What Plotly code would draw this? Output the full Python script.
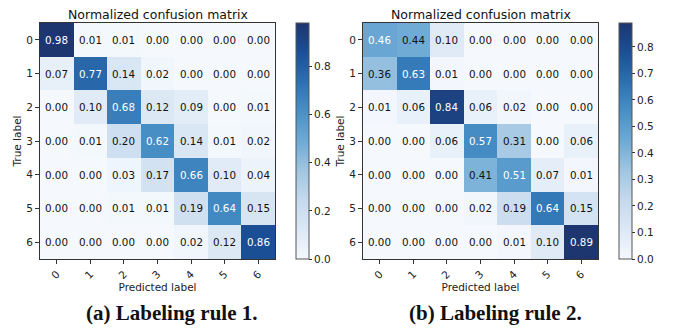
import plotly.graph_objects as go

labels = ["0", "1", "2", "3", "4", "5", "6"]

cm_rule1 = [
    [0.98, 0.01, 0.01, 0.00, 0.00, 0.00, 0.00],
    [0.07, 0.77, 0.14, 0.02, 0.00, 0.00, 0.00],
    [0.00, 0.10, 0.68, 0.12, 0.09, 0.00, 0.01],
    [0.00, 0.01, 0.20, 0.62, 0.14, 0.01, 0.02],
    [0.00, 0.00, 0.03, 0.17, 0.66, 0.10, 0.04],
    [0.00, 0.00, 0.01, 0.01, 0.19, 0.64, 0.15],
    [0.00, 0.00, 0.00, 0.00, 0.02, 0.12, 0.86],
]

cm_rule2 = [
    [0.46, 0.44, 0.10, 0.00, 0.00, 0.00, 0.00],
    [0.36, 0.63, 0.01, 0.00, 0.00, 0.00, 0.00],
    [0.01, 0.06, 0.84, 0.06, 0.02, 0.00, 0.00],
    [0.00, 0.00, 0.06, 0.57, 0.31, 0.00, 0.06],
    [0.00, 0.00, 0.00, 0.41, 0.51, 0.07, 0.01],
    [0.00, 0.00, 0.00, 0.02, 0.19, 0.64, 0.15],
    [0.00, 0.00, 0.00, 0.00, 0.01, 0.10, 0.89],
]

titles = ["Normalized confusion matrix", "Normalized confusion matrix"]
captions = ["(a) Labeling rule 1.", "(b) Labeling rule 2."]
cbar_ticks1 = [0.0, 0.2, 0.4, 0.6, 0.8]
cbar_ticks2 = [0.0, 0.1, 0.2, 0.3, 0.4, 0.5, 0.6, 0.7, 0.8]

blues = [
    [0.0, "#f5f9fe"], [0.125, "#dce8f5"], [0.25, "#c5d9ee"], [0.375, "#a0c6e1"],
    [0.5, "#6eaad5"], [0.625, "#4990c6"], [0.75, "#2c70b2"], [0.875, "#1b5096"],
    [1.0, "#1d3670"],
]

W, H = 674, 328
FONT = "DejaVu Sans"

panels = [
    dict(cm=cm_rule1, ticks=cbar_ticks1, x0=40, x1=275, cb=296),
    dict(cm=cm_rule2, ticks=cbar_ticks2, x0=363, x1=598, cb=619),
]
y_top, y_bot = 23, 259

fig = go.Figure()
annotations = []
for i, p in enumerate(panels):
    sfx = "" if i == 0 else str(i + 1)
    cm = p["cm"]
    zmax = max(max(r) for r in cm)
    idx = list(range(len(labels)))
    fig.add_trace(go.Heatmap(
        z=cm, x=idx, y=idx, zmin=0, zmax=zmax, colorscale=blues,
        xaxis="x" + sfx, yaxis="y" + sfx, hoverinfo="skip",
        xgap=0, ygap=0,
        colorbar=dict(
            x=p["cb"] / W, xanchor="left", y=1 - (y_top + y_bot) / 2 / H, yanchor="middle",
            lenmode="pixels", len=y_bot - y_top, thickness=13,
            outlinewidth=1, outlinecolor="#555555",
            tickvals=p["ticks"], ticktext=[f"{t:.1f}" for t in p["ticks"]],
            ticks="outside", ticklen=3, tickcolor="#333", tickwidth=1,
            tickfont=dict(family=FONT, size=10.5, color="#222"),
            xpad=0, ypad=0,
        ),
    ))
    thresh = zmax / 2
    for r, row in enumerate(cm):
        for c, v in enumerate(row):
            annotations.append(dict(
                x=c, y=r, xref="x" + sfx, yref="y" + sfx, text=f"{v:.2f}",
                showarrow=False, font=dict(family=FONT, size=10.3,
                                           color="white" if v > thresh else "#111"),
            ))
    ax = dict(
        domain=[p["x0"] / W, p["x1"] / W], anchor="y" + sfx,
        range=[-0.5, 6.5], tickvals=idx, ticktext=labels, tickangle=-45,
        ticks="outside", ticklen=4, tickcolor="#333", tickwidth=1,
        showline=True, mirror=True, linecolor="#333", linewidth=1,
        showgrid=False, zeroline=False,
        tickfont=dict(family=FONT, size=10.5, color="#222"),
        title=dict(text="Predicted label", font=dict(family=FONT, size=10.5, color="#222"), standoff=2),
    )
    ay = dict(
        domain=[1 - y_bot / H, 1 - y_top / H], anchor="x" + sfx,
        range=[6.5, -0.5], tickvals=idx, ticktext=labels,
        ticks="outside", ticklen=4, tickcolor="#333", tickwidth=1,
        showline=True, mirror=True, linecolor="#333", linewidth=1,
        showgrid=False, zeroline=False,
        tickfont=dict(family=FONT, size=10.5, color="#222"),
        title=dict(text="True label", font=dict(family=FONT, size=10.5, color="#222"), standoff=2),
    )
    fig.layout["xaxis" + sfx] = ax
    fig.layout["yaxis" + sfx] = ay
    cx = (p["x0"] + p["x1"]) / 2 / W
    annotations.append(dict(
        x=cx, y=1 - 14 / H, xref="paper", yref="paper", text=titles[i],
        showarrow=False, font=dict(family=FONT, size=12.5, color="#111"),
        xanchor="center", yanchor="middle",
    ))
    annotations.append(dict(
        x=[172, 495][i] / W, y=1 - 313 / H, xref="paper", yref="paper",
        text="<b>" + captions[i] + "</b>", showarrow=False,
        font=dict(family="Liberation Serif", size=21, color="#111"),
        xanchor="center", yanchor="middle",
    ))

fig.update_layout(
    width=W, height=H, margin=dict(l=0, r=0, t=0, b=0),
    paper_bgcolor="white", plot_bgcolor="white",
    annotations=annotations, showlegend=False,
)
fig.write_html(
    "out.html",
    config={"displayModeBar": False, "staticPlot": True},
    post_script="document.body.style.margin='0';document.body.style.overflow='hidden';",
)
